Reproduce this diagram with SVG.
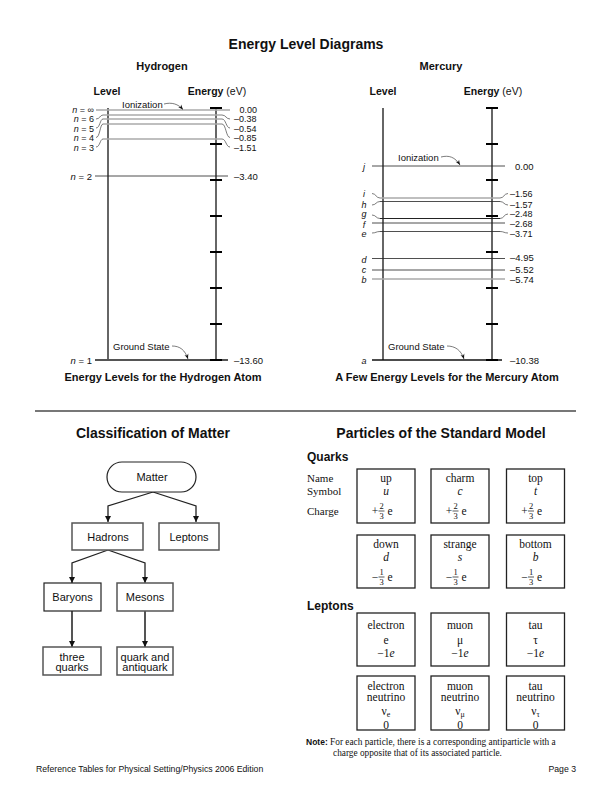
<svg xmlns="http://www.w3.org/2000/svg" width="612" height="792" viewBox="0 0 612 792">
<defs>
<style>
.sans{font-family:"Liberation Sans",Arial,sans-serif;fill:#111}
.b{font-weight:bold}
.serif{font-family:"Liberation Serif","Times New Roman",serif;fill:#111}
.it{font-style:italic}
.lab{font-size:9.5px}
.sm{font-size:9px}
.vert{stroke:#666;stroke-width:2;fill:none}
.tick{stroke:#000;stroke-width:2;fill:none}
.lg{stroke:#aaa;stroke-width:1.6;fill:none}
.dk{stroke:#222;stroke-width:0.8;fill:none}
.ldr{stroke:#444;stroke-width:0.7;fill:none}
.box{fill:#fff;stroke:#222;stroke-width:1.2}
.gbox{fill:#fff;stroke:#555;stroke-width:1.5}
.pbox{fill:#fff;stroke:#222;stroke-width:1.3}
.con{stroke:#222;stroke-width:1.3;fill:none}
.gcon{stroke:#555;stroke-width:2;fill:none}
.ptxt{font-size:11.5px}
.frac{font-size:8.5px}
.fl{stroke:#111;stroke-width:0.7}
</style>
<marker id="ah" viewBox="0 0 10 10" refX="10" refY="5" markerWidth="8" markerHeight="6" markerUnits="userSpaceOnUse" orient="auto">
<path d="M0 0 L10 5 L0 10 Z" fill="#111"/>
</marker>
<marker id="sa" viewBox="0 0 10 10" refX="10" refY="5" markerWidth="7" markerHeight="5" markerUnits="userSpaceOnUse" orient="auto">
<path d="M0 1 L10 5 L0 9 L3 5 Z" fill="#111"/>
</marker>
</defs>
<rect width="612" height="792" fill="#fff"/>

<text class="sans b" x="306" y="49" font-size="14" text-anchor="middle">Energy Level Diagrams</text>

<!-- Hydrogen -->
<g id="hydrogen">
<text class="sans b" x="162" y="70" font-size="11" text-anchor="middle">Hydrogen</text>
<text class="sans b" x="107" y="95" font-size="10.5" text-anchor="middle">Level</text>
<text class="sans" x="217" y="95" font-size="10.5" text-anchor="middle"><tspan font-weight="bold">Energy</tspan> (eV)</text>
<line class="vert" x1="108" y1="108" x2="108" y2="360"/>
<line class="vert" x1="216" y1="108" x2="216" y2="360"/>
<g class="lines">
<line class="lg" x1="103" y1="110" x2="222" y2="110"/>
<line class="lg" x1="103" y1="115" x2="222" y2="115"/>
<line class="lg" x1="103" y1="119" x2="222" y2="119"/>
<line class="lg" x1="103" y1="124" x2="222" y2="124"/>
<line class="lg" x1="103" y1="139" x2="222" y2="139"/>
<path class="ldr" d="M96 110 L103 110"/>
<path class="ldr" d="M96 119 C100 119,100 115,103 115"/>
<path class="ldr" d="M96 128 C100 128,100 119,103 119"/>
<path class="ldr" d="M96 137.5 C100 137.5,100 124,103 124"/>
<path class="ldr" d="M96 147 C100 147,100 139,103 139"/>
<path class="ldr" d="M222 110 L230 110"/>
<path class="ldr" d="M222 115 C226 115,226 119,230 119"/>
<path class="ldr" d="M222 119 C226 119,226 128,230 128"/>
<path class="ldr" d="M222 124 C226 124,226 137.5,230 137.5"/>
<path class="ldr" d="M222 139 C226 139,226 147,230 147"/>
<line class="dk" x1="95" y1="176" x2="228" y2="176"/>
<line stroke="#555" stroke-width="2" x1="95" y1="360" x2="228" y2="360"/>
</g>
<g class="ticks">
<line class="tick" x1="210" y1="108" x2="222" y2="108"/>
<line class="tick" x1="210" y1="144" x2="222" y2="144"/>
<line class="tick" x1="210" y1="180" x2="222" y2="180"/>
<line class="tick" x1="210" y1="216" x2="222" y2="216"/>
<line class="tick" x1="210" y1="252" x2="222" y2="252"/>
<line class="tick" x1="210" y1="288" x2="222" y2="288"/>
<line class="tick" x1="210" y1="324" x2="222" y2="324"/>
<line class="tick" x1="210" y1="360" x2="222" y2="360"/>
</g>
<g class="sans sm" text-anchor="end">
<text x="94" y="113"><tspan class="it">n</tspan> = ∞</text>
<text x="94" y="122.3"><tspan class="it">n</tspan> = 6</text>
<text x="94" y="131.6"><tspan class="it">n</tspan> = 5</text>
<text x="94" y="140.9"><tspan class="it">n</tspan> = 4</text>
<text x="94" y="151"><tspan class="it">n</tspan> = 3</text>
</g>
<g class="sans lab" text-anchor="end">
<text x="92" y="179.5"><tspan class="it">n</tspan> = 2</text>
<text x="92" y="363.5"><tspan class="it">n</tspan> = 1</text>
</g>
<g class="sans sm">
<text x="239.5" y="113">0.00</text>
<text x="234" y="122.3">–0.38</text>
<text x="234" y="131.6">–0.54</text>
<text x="234" y="140.9">–0.85</text>
<text x="234" y="151">–1.51</text>
</g>
<g class="sans lab">
<text x="234" y="179.5">–3.40</text>
<text x="234" y="363.5">–13.60</text>
<text x="122" y="107.5">Ionization</text>
<text x="113" y="350">Ground State</text>
</g>
<path class="ldr" d="M164 104 C172 102,178 104,183 109.5" marker-end="url(#sa)"/>
<path class="ldr" d="M172 346 C180 346,185 350,188 359" marker-end="url(#sa)"/>
<text class="sans b" x="163" y="381" font-size="11" text-anchor="middle">Energy Levels for the Hydrogen Atom</text>
</g>

<!-- Mercury -->
<g id="mercury">
<text class="sans b" x="441" y="70" font-size="11" text-anchor="middle">Mercury</text>
<text class="sans b" x="383" y="95" font-size="10.5" text-anchor="middle">Level</text>
<text class="sans" x="493" y="95" font-size="10.5" text-anchor="middle"><tspan font-weight="bold">Energy</tspan> (eV)</text>
<line class="vert" x1="383" y1="108" x2="383" y2="360"/>
<line class="vert" x1="492" y1="108" x2="492" y2="360"/>
<g class="lines">
<line class="dk" x1="372" y1="166" x2="505" y2="166"/>
<line class="lg" x1="380" y1="198" x2="500" y2="198"/>
<line class="dk" x1="380" y1="201.5" x2="500" y2="201.5"/>
<line stroke="#222" stroke-width="1" x1="380" y1="218.5" x2="500" y2="218.5"/>
<line class="dk" x1="372" y1="223" x2="505" y2="223"/>
<line class="dk" x1="380" y1="231.5" x2="500" y2="231.5"/>
<line class="dk" x1="372" y1="258.5" x2="505" y2="258.5"/>
<line class="dk" x1="372" y1="270" x2="505" y2="270"/>
<line class="lg" x1="372" y1="279" x2="505" y2="279" stroke-width="2"/>
<line stroke="#111" stroke-width="1.4" x1="372" y1="360" x2="502" y2="360"/>
<path class="ldr" d="M372 193.5 C376 193.5,376 198,380 198"/>
<path class="ldr" d="M372 205 C376 205,376 201.5,380 201.5"/>
<path class="ldr" d="M372 215 C376 215,376 218.5,380 218.5"/>
<path class="ldr" d="M372 233 C376 233,376 231.5,380 231.5"/>
<path class="ldr" d="M500 198 C504 198,504 193.5,508 193.5"/>
<path class="ldr" d="M500 201.5 C504 201.5,504 205,508 205"/>
<path class="ldr" d="M500 218.5 C504 218.5,504 214,508 214"/>
<path class="ldr" d="M500 231.5 C504 231.5,504 233,508 233"/>
</g>
<g class="ticks">
<line class="tick" x1="486" y1="108" x2="498" y2="108"/>
<line class="tick" x1="486" y1="144" x2="498" y2="144"/>
<line class="tick" x1="486" y1="180" x2="498" y2="180"/>
<line class="tick" x1="486" y1="216" x2="498" y2="216"/>
<line class="tick" x1="486" y1="252" x2="498" y2="252"/>
<line class="tick" x1="486" y1="288" x2="498" y2="288"/>
<line class="tick" x1="486" y1="324" x2="498" y2="324"/>
<line class="tick" x1="486" y1="360" x2="498" y2="360"/>
</g>
<g class="sans sm it" text-anchor="middle">
<text x="364" y="169.5">j</text>
<text x="364" y="196.5">i</text>
<text x="364" y="207.5">h</text>
<text x="364" y="217">g</text>
<text x="364" y="227.8">f</text>
<text x="364" y="237">e</text>
<text x="364" y="262.5">d</text>
<text x="364" y="273">c</text>
<text x="364" y="283">b</text>
<text x="364" y="363.5">a</text>
</g>
<g class="sans sm">
<text x="510" y="196.5">–1.56</text>
<text x="510" y="207.5">–1.57</text>
<text x="510" y="217">–2.48</text>
<text x="510" y="227.3">–2.68</text>
<text x="510" y="237">–3.71</text>
</g>
<g class="sans lab">
<text x="515" y="169.5">0.00</text>
<text x="510" y="261">–4.95</text>
<text x="510" y="272.5">–5.52</text>
<text x="510" y="282.5">–5.74</text>
<text x="510" y="363.5">–10.38</text>
<text x="398" y="160.5">Ionization</text>
<text x="388" y="350">Ground State</text>
</g>
<path class="ldr" d="M441 157 C449 155,455 157,460 165" marker-end="url(#sa)"/>
<path class="ldr" d="M447 346 C455 346,461 350,464 359" marker-end="url(#sa)"/>
<text class="sans b" x="447" y="381" font-size="11" text-anchor="middle">A Few Energy Levels for the Mercury Atom</text>
</g>

<line x1="35" y1="411" x2="576" y2="411" stroke="#777" stroke-width="2"/>

<!-- Classification of Matter -->
<text class="sans b" x="153" y="438" font-size="14" text-anchor="middle">Classification of Matter</text>
<g id="connectors">
<path class="con" d="M153 492 L108 506 L108 522" marker-end="url(#ah)"/>
<path class="con" d="M153 492 L196 506 L196 522" marker-end="url(#ah)"/>
<path class="con" d="M108 550 L72 563 L72 583" marker-end="url(#ah)"/>
<path class="con" d="M108 550 L145 563 L145 583" marker-end="url(#ah)"/>
<path class="gcon" d="M72 611 L72 647" marker-end="url(#ah)"/>
<path class="gcon" d="M145 611 L145 647" marker-end="url(#ah)"/>
</g>
<g id="matter">
<rect class="box" x="107" y="462" width="89" height="30" rx="15"/>
<text class="sans" x="152" y="481" font-size="11" text-anchor="middle">Matter</text>
</g>
<g id="hadrons">
<rect class="gbox" x="72" y="523" width="71" height="27" stroke-width="1.2"/>
<text class="sans" x="108" y="540.5" font-size="11" text-anchor="middle">Hadrons</text>
</g>
<g id="leptons">
<rect class="gbox" x="159" y="523" width="60" height="27" stroke-width="1.2"/>
<text class="sans" x="189" y="540.5" font-size="11" text-anchor="middle">Leptons</text>
</g>
<g id="baryons">
<rect class="box" x="44" y="583" width="57" height="28"/>
<text class="sans" x="72.5" y="601" font-size="11" text-anchor="middle">Baryons</text>
</g>
<g id="mesons">
<rect class="gbox" x="117" y="583" width="56" height="28"/>
<text class="sans" x="145" y="601" font-size="11" text-anchor="middle">Mesons</text>
</g>
<g id="three-quarks">
<rect class="gbox" x="43" y="647" width="58" height="28"/>
<text class="sans" x="72" y="660.5" font-size="11" text-anchor="middle">three</text>
<text class="sans" x="72" y="671" font-size="11" text-anchor="middle">quarks</text>
</g>
<g id="quark-antiquark">
<rect class="gbox" x="117" y="647" width="56" height="28"/>
<text class="sans" x="145" y="660.5" font-size="11" text-anchor="middle">quark and</text>
<text class="sans" x="145" y="671" font-size="11" text-anchor="middle">antiquark</text>
</g>

<!-- Particles of the Standard Model -->
<text class="sans b" x="441" y="438" font-size="14" text-anchor="middle">Particles of the Standard Model</text>
<text class="sans b" x="307" y="461" font-size="12">Quarks</text>
<g class="serif" font-size="11">
<text x="307" y="481.5">Name</text>
<text x="307" y="495">Symbol</text>
<text x="307" y="514.5">Charge</text>
</g>

<g id="up">
<rect class="pbox" x="357" y="469" width="58" height="54"/>
<g class="serif" text-anchor="middle">
<text class="ptxt" x="386" y="481.5">up</text>
<text class="ptxt it" x="386" y="495">u</text>
<text class="ptxt" x="375" y="514.5">+</text>
<text class="frac" x="381.5" y="509">2</text>
<line class="fl" x1="378.5" y1="511" x2="384.5" y2="511"/>
<text class="frac" x="381.5" y="518.5">3</text>
<text class="ptxt" x="390" y="514.5">e</text>
</g>
</g>
<g id="charm">
<rect class="pbox" x="431" y="469" width="58" height="54"/>
<g class="serif" text-anchor="middle">
<text class="ptxt" x="460" y="481.5">charm</text>
<text class="ptxt it" x="460" y="495">c</text>
<text class="ptxt" x="449" y="514.5">+</text>
<text class="frac" x="455.5" y="509">2</text>
<line class="fl" x1="452.5" y1="511" x2="458.5" y2="511"/>
<text class="frac" x="455.5" y="518.5">3</text>
<text class="ptxt" x="464" y="514.5">e</text>
</g>
</g>
<g id="top">
<rect class="pbox" x="506.5" y="469" width="58" height="54"/>
<g class="serif" text-anchor="middle">
<text class="ptxt" x="535.5" y="481.5">top</text>
<text class="ptxt it" x="535.5" y="495">t</text>
<text class="ptxt" x="524.5" y="514.5">+</text>
<text class="frac" x="531" y="509">2</text>
<line class="fl" x1="528" y1="511" x2="534" y2="511"/>
<text class="frac" x="531" y="518.5">3</text>
<text class="ptxt" x="539.5" y="514.5">e</text>
</g>
</g>
<g id="down">
<rect class="pbox" x="357" y="535" width="58" height="53"/>
<g class="serif" text-anchor="middle">
<text class="ptxt" x="386" y="547.5">down</text>
<text class="ptxt it" x="386" y="561">d</text>
<text class="ptxt" x="375" y="580.5">−</text>
<text class="frac" x="381.5" y="575">1</text>
<line class="fl" x1="378.5" y1="577" x2="384.5" y2="577"/>
<text class="frac" x="381.5" y="584.5">3</text>
<text class="ptxt" x="390" y="580.5">e</text>
</g>
</g>
<g id="strange">
<rect class="pbox" x="431" y="535" width="58" height="53"/>
<g class="serif" text-anchor="middle">
<text class="ptxt" x="460" y="547.5">strange</text>
<text class="ptxt it" x="460" y="561">s</text>
<text class="ptxt" x="449" y="580.5">−</text>
<text class="frac" x="455.5" y="575">1</text>
<line class="fl" x1="452.5" y1="577" x2="458.5" y2="577"/>
<text class="frac" x="455.5" y="584.5">3</text>
<text class="ptxt" x="464" y="580.5">e</text>
</g>
</g>
<g id="bottom">
<rect class="pbox" x="506.5" y="535" width="58" height="53"/>
<g class="serif" text-anchor="middle">
<text class="ptxt" x="535.5" y="547.5">bottom</text>
<text class="ptxt it" x="535.5" y="561">b</text>
<text class="ptxt" x="524.5" y="580.5">−</text>
<text class="frac" x="531" y="575">1</text>
<line class="fl" x1="528" y1="577" x2="534" y2="577"/>
<text class="frac" x="531" y="584.5">3</text>
<text class="ptxt" x="539.5" y="580.5">e</text>
</g>
</g>

<text class="sans b" x="307" y="610" font-size="12">Leptons</text>
<g id="electron">
<rect class="pbox" x="357" y="613" width="58" height="53"/>
<g class="serif ptxt" text-anchor="middle">
<text x="386" y="629">electron</text>
<text x="386" y="643.5">e</text>
<text x="386" y="657">−1<tspan class="it">e</tspan></text>
</g>
</g>
<g id="muon">
<rect class="pbox" x="431" y="613" width="58" height="53"/>
<g class="serif ptxt" text-anchor="middle">
<text x="460" y="629">muon</text>
<text x="460" y="643.5">μ</text>
<text x="460" y="657">−1<tspan class="it">e</tspan></text>
</g>
</g>
<g id="tau">
<rect class="pbox" x="506.5" y="613" width="58" height="53"/>
<g class="serif ptxt" text-anchor="middle">
<text x="535.5" y="629">tau</text>
<text x="535.5" y="643.5">τ</text>
<text x="535.5" y="657">−1<tspan class="it">e</tspan></text>
</g>
</g>
<g id="electron-neutrino">
<rect class="pbox" x="357" y="676" width="58" height="54"/>
<g class="serif ptxt" text-anchor="middle">
<text x="386" y="689.5">electron</text>
<text x="386" y="700.5">neutrino</text>
<text x="386" y="714.5">ν<tspan font-size="8" dy="2.5">e</tspan></text>
<text x="386" y="728.5">0</text>
</g>
</g>
<g id="muon-neutrino">
<rect class="pbox" x="431" y="676" width="58" height="54"/>
<g class="serif ptxt" text-anchor="middle">
<text x="460" y="689.5">muon</text>
<text x="460" y="700.5">neutrino</text>
<text x="460" y="714.5">ν<tspan font-size="8" dy="2.5">μ</tspan></text>
<text x="460" y="728.5">0</text>
</g>
</g>
<g id="tau-neutrino">
<rect class="pbox" x="506.5" y="676" width="58" height="54"/>
<g class="serif ptxt" text-anchor="middle">
<text x="535.5" y="689.5">tau</text>
<text x="535.5" y="700.5">neutrino</text>
<text x="535.5" y="714.5">ν<tspan font-size="8" dy="2.5">τ</tspan></text>
<text x="535.5" y="728.5">0</text>
</g>
</g>

<text class="serif" x="306" y="745" font-size="9.3"><tspan class="sans b" font-size="8.5">Note:</tspan> For each particle, there is a corresponding antiparticle with a</text>
<text class="serif" x="333" y="755.5" font-size="9.3">charge opposite that of its associated particle.</text>

<text class="sans" x="36" y="772" font-size="8.7">Reference Tables for Physical Setting/Physics 2006 Edition</text>
<text class="sans" x="576" y="772" font-size="8.7" text-anchor="end">Page 3</text>
</svg>
